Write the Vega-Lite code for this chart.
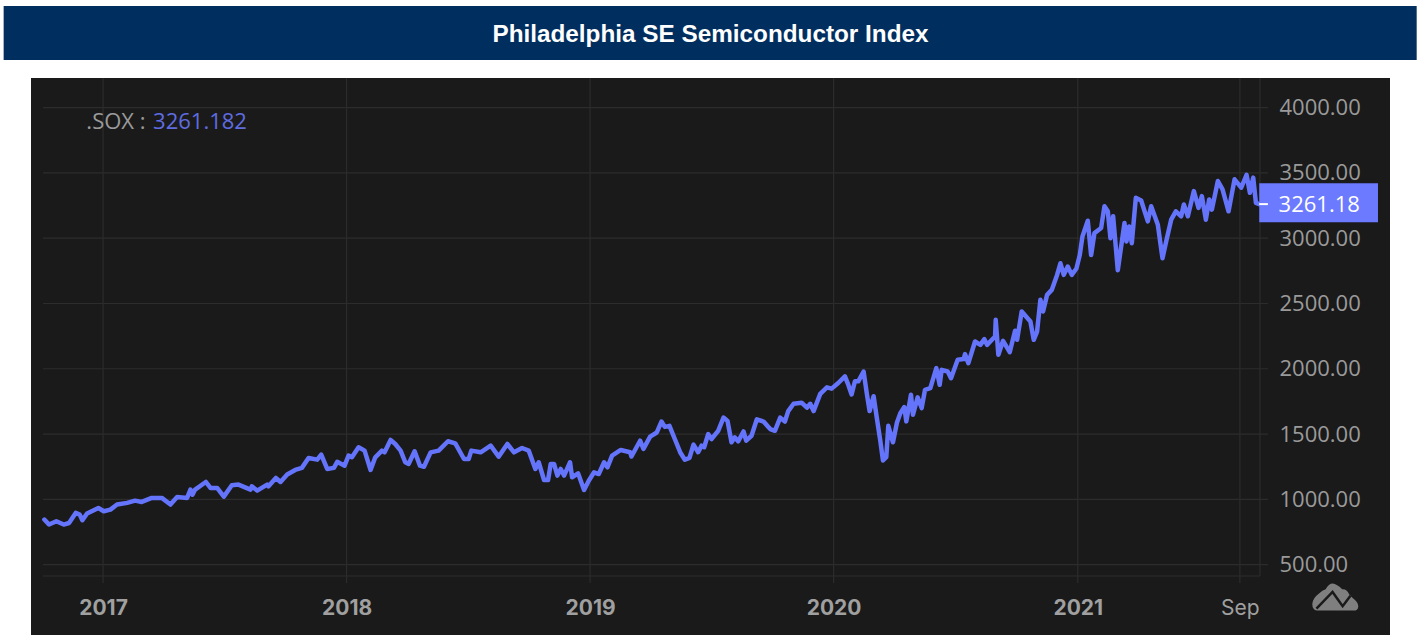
{"$schema":"https://vega.github.io/schema/vega-lite/v6.json","width":1359,"height":557,"autosize":{"type":"none"},"padding":{"left":31,"top":78,"right":30,"bottom":6},"background":"#ffffff",
"title":{"text":"Philadelphia SE Semiconductor Index","anchor":"middle","offset":-41,"font":"Liberation Sans","fontSize":24.3,"fontWeight":"bold","color":"#ffffff"},
"config":{"view":{"fill":"#1a1a1a","stroke":null}},
"datasets":{
"sox":[{"date":"2016-10-05","value":845},{"date":"2016-10-12","value":807},{"date":"2016-10-23","value":832},{"date":"2016-11-03","value":807},{"date":"2016-11-11","value":819},{"date":"2016-11-21","value":896},{"date":"2016-11-27","value":883},{"date":"2016-12-01","value":840},{"date":"2016-12-08","value":891},{"date":"2016-12-25","value":934},{"date":"2017-01-02","value":909},{"date":"2017-01-12","value":921},{"date":"2017-01-22","value":960},{"date":"2017-02-06","value":973},{"date":"2017-02-18","value":990},{"date":"2017-02-28","value":980},{"date":"2017-03-15","value":1011},{"date":"2017-03-30","value":1011},{"date":"2017-04-12","value":960},{"date":"2017-04-22","value":1018},{"date":"2017-05-07","value":1011},{"date":"2017-05-12","value":1075},{"date":"2017-05-15","value":1036},{"date":"2017-05-19","value":1075},{"date":"2017-06-04","value":1133},{"date":"2017-06-11","value":1087},{"date":"2017-06-21","value":1087},{"date":"2017-07-01","value":1021},{"date":"2017-07-13","value":1108},{"date":"2017-07-23","value":1113},{"date":"2017-08-10","value":1075},{"date":"2017-08-12","value":1100},{"date":"2017-08-20","value":1067},{"date":"2017-09-04","value":1113},{"date":"2017-09-06","value":1100},{"date":"2017-09-17","value":1164},{"date":"2017-09-24","value":1133},{"date":"2017-10-04","value":1190},{"date":"2017-10-16","value":1225},{"date":"2017-10-26","value":1241},{"date":"2017-11-05","value":1317},{"date":"2017-11-18","value":1304},{"date":"2017-11-24","value":1343},{"date":"2017-12-03","value":1233},{"date":"2017-12-13","value":1241},{"date":"2017-12-18","value":1287},{"date":"2017-12-29","value":1258},{"date":"2018-01-04","value":1335},{"date":"2018-01-09","value":1322},{"date":"2018-01-19","value":1399},{"date":"2018-01-28","value":1373},{"date":"2018-02-06","value":1225},{"date":"2018-02-13","value":1322},{"date":"2018-02-23","value":1373},{"date":"2018-02-27","value":1360},{"date":"2018-03-08","value":1455},{"date":"2018-03-15","value":1424},{"date":"2018-03-23","value":1373},{"date":"2018-03-30","value":1284},{"date":"2018-04-04","value":1271},{"date":"2018-04-13","value":1368},{"date":"2018-04-21","value":1258},{"date":"2018-04-27","value":1250},{"date":"2018-05-07","value":1360},{"date":"2018-05-19","value":1373},{"date":"2018-06-02","value":1445},{"date":"2018-06-13","value":1429},{"date":"2018-06-26","value":1309},{"date":"2018-07-03","value":1309},{"date":"2018-07-07","value":1373},{"date":"2018-07-21","value":1360},{"date":"2018-08-05","value":1411},{"date":"2018-08-17","value":1327},{"date":"2018-08-30","value":1424},{"date":"2018-09-09","value":1360},{"date":"2018-09-21","value":1393},{"date":"2018-10-01","value":1373},{"date":"2018-10-11","value":1233},{"date":"2018-10-16","value":1284},{"date":"2018-10-24","value":1148},{"date":"2018-10-30","value":1148},{"date":"2018-11-03","value":1271},{"date":"2018-11-08","value":1271},{"date":"2018-11-13","value":1182},{"date":"2018-11-18","value":1233},{"date":"2018-11-23","value":1182},{"date":"2018-12-02","value":1284},{"date":"2018-12-05","value":1169},{"date":"2018-12-14","value":1199},{"date":"2018-12-23","value":1072},{"date":"2018-12-30","value":1143},{"date":"2019-01-07","value":1207},{"date":"2019-01-14","value":1194},{"date":"2019-01-22","value":1284},{"date":"2019-01-27","value":1245},{"date":"2019-02-03","value":1335},{"date":"2019-02-16","value":1378},{"date":"2019-03-02","value":1361},{"date":"2019-03-04","value":1328},{"date":"2019-03-17","value":1449},{"date":"2019-03-22","value":1386},{"date":"2019-04-01","value":1480},{"date":"2019-04-11","value":1512},{"date":"2019-04-18","value":1596},{"date":"2019-04-23","value":1555},{"date":"2019-04-30","value":1563},{"date":"2019-05-08","value":1462},{"date":"2019-05-16","value":1361},{"date":"2019-05-23","value":1303},{"date":"2019-05-30","value":1318},{"date":"2019-06-05","value":1419},{"date":"2019-06-12","value":1361},{"date":"2019-06-17","value":1411},{"date":"2019-06-21","value":1399},{"date":"2019-06-27","value":1500},{"date":"2019-07-02","value":1462},{"date":"2019-07-12","value":1525},{"date":"2019-07-20","value":1626},{"date":"2019-07-26","value":1601},{"date":"2019-08-01","value":1437},{"date":"2019-08-06","value":1475},{"date":"2019-08-11","value":1444},{"date":"2019-08-19","value":1520},{"date":"2019-08-23","value":1449},{"date":"2019-08-31","value":1487},{"date":"2019-09-08","value":1613},{"date":"2019-09-18","value":1596},{"date":"2019-09-28","value":1538},{"date":"2019-10-05","value":1525},{"date":"2019-10-13","value":1626},{"date":"2019-10-20","value":1596},{"date":"2019-10-25","value":1676},{"date":"2019-11-02","value":1732},{"date":"2019-11-14","value":1740},{"date":"2019-11-22","value":1702},{"date":"2019-11-27","value":1732},{"date":"2019-12-02","value":1676},{"date":"2019-12-12","value":1808},{"date":"2019-12-22","value":1858},{"date":"2019-12-29","value":1848},{"date":"2020-01-08","value":1891},{"date":"2020-01-18","value":1942},{"date":"2020-01-23","value":1878},{"date":"2020-01-28","value":1803},{"date":"2020-02-02","value":1904},{"date":"2020-02-07","value":1904},{"date":"2020-02-15","value":1979},{"date":"2020-02-20","value":1803},{"date":"2020-02-24","value":1676},{"date":"2020-03-01","value":1790},{"date":"2020-03-05","value":1651},{"date":"2020-03-11","value":1449},{"date":"2020-03-15","value":1298},{"date":"2020-03-20","value":1323},{"date":"2020-03-23","value":1563},{"date":"2020-03-30","value":1437},{"date":"2020-04-05","value":1588},{"date":"2020-04-10","value":1660},{"date":"2020-04-16","value":1707},{"date":"2020-04-19","value":1597},{"date":"2020-04-26","value":1801},{"date":"2020-04-29","value":1648},{"date":"2020-05-06","value":1781},{"date":"2020-05-12","value":1699},{"date":"2020-05-17","value":1839},{"date":"2020-05-25","value":1852},{"date":"2020-06-03","value":2005},{"date":"2020-06-08","value":1877},{"date":"2020-06-11","value":1992},{"date":"2020-06-20","value":1979},{"date":"2020-06-25","value":1928},{"date":"2020-07-05","value":2069},{"date":"2020-07-14","value":2074},{"date":"2020-07-16","value":2112},{"date":"2020-07-21","value":2043},{"date":"2020-07-31","value":2209},{"date":"2020-08-08","value":2183},{"date":"2020-08-14","value":2227},{"date":"2020-08-18","value":2183},{"date":"2020-08-30","value":2247},{"date":"2020-08-31","value":2375},{"date":"2020-09-04","value":2107},{"date":"2020-09-11","value":2214},{"date":"2020-09-21","value":2127},{"date":"2020-09-29","value":2291},{"date":"2020-10-02","value":2222},{"date":"2020-10-09","value":2439},{"date":"2020-10-22","value":2362},{"date":"2020-10-27","value":2222},{"date":"2020-11-01","value":2285},{"date":"2020-11-06","value":2528},{"date":"2020-11-10","value":2438},{"date":"2020-11-16","value":2566},{"date":"2020-11-23","value":2604},{"date":"2020-12-01","value":2719},{"date":"2020-12-06","value":2808},{"date":"2020-12-11","value":2719},{"date":"2020-12-17","value":2783},{"date":"2020-12-23","value":2719},{"date":"2020-12-30","value":2768},{"date":"2021-01-04","value":2871},{"date":"2021-01-08","value":3013},{"date":"2021-01-16","value":3134},{"date":"2021-01-21","value":2871},{"date":"2021-01-26","value":3039},{"date":"2021-02-05","value":3078},{"date":"2021-02-10","value":3245},{"date":"2021-02-15","value":3206},{"date":"2021-02-19","value":3000},{"date":"2021-02-23","value":3168},{"date":"2021-03-02","value":2755},{"date":"2021-03-12","value":3116},{"date":"2021-03-15","value":2975},{"date":"2021-03-19","value":3090},{"date":"2021-03-23","value":2962},{"date":"2021-03-29","value":3309},{"date":"2021-04-06","value":3289},{"date":"2021-04-16","value":3129},{"date":"2021-04-21","value":3245},{"date":"2021-05-01","value":3103},{"date":"2021-05-08","value":2846},{"date":"2021-05-14","value":2987},{"date":"2021-05-21","value":3142},{"date":"2021-05-28","value":3206},{"date":"2021-06-05","value":3168},{"date":"2021-06-09","value":3258},{"date":"2021-06-15","value":3168},{"date":"2021-06-24","value":3361},{"date":"2021-07-01","value":3232},{"date":"2021-07-06","value":3322},{"date":"2021-07-12","value":3142},{"date":"2021-07-17","value":3297},{"date":"2021-07-21","value":3219},{"date":"2021-07-30","value":3438},{"date":"2021-08-06","value":3374},{"date":"2021-08-15","value":3206},{"date":"2021-08-24","value":3451},{"date":"2021-09-03","value":3387},{"date":"2021-09-11","value":3485},{"date":"2021-09-16","value":3348},{"date":"2021-09-21","value":3464},{"date":"2021-09-25","value":3271},{"date":"2021-09-30","value":3261}],
"hgrid":[{"value":4000,"date":"2016-10-03","date2":"2021-10-13"},{"value":3500,"date":"2016-10-03","date2":"2021-10-13"},{"value":3000,"date":"2016-10-03","date2":"2021-10-13"},{"value":2500,"date":"2016-10-03","date2":"2021-10-13"},{"value":2000,"date":"2016-10-03","date2":"2021-10-13"},{"value":1500,"date":"2016-10-03","date2":"2021-10-13"},{"value":1000,"date":"2016-10-03","date2":"2021-10-13"},{"value":500,"date":"2016-10-03","date2":"2021-10-13"},{"value":413,"date":"2016-10-03","date2":"2021-10-01"}],
"vgrid":[{"date":"2017-01-01","value":360,"value2":4227},{"date":"2018-01-01","value":360,"value2":4227},{"date":"2019-01-01","value":360,"value2":4227},{"date":"2020-01-01","value":360,"value2":4227},{"date":"2021-01-01","value":360,"value2":4227},{"date":"2021-09-01","value":360,"value2":4227},{"date":"2021-10-01","value":413,"value2":4227}],
"banner":[{"date":"2016-08-05","date2":"2022-05-24","value":4365,"value2":4779}],
"tag":[{"date":"2021-09-30","date2":"2022-03-27","value":3122,"value2":3421}],
"tagTick":[{"date":"2021-09-30","date2":"2021-10-13","value":3261}],
"tagText":[{"date":"2021-10-29","value":3255,"label":"3261.18"}],
"legendName":[{"date":"2016-12-07","value":3892,"label":".SOX :"}],
"legendValue":[{"date":"2017-03-17","value":3892,"label":"3261.182"}],
"logo":[{"date":"2022-01-22","value":252}]
},
"encoding":{
"x":{"field":"date","type":"temporal","title":null,"scale":{"type":"utc","domain":["2016-09-15","2022-04-14"],"nice":false},
"axis":{"values":["2017-01-01","2018-01-01","2019-01-01","2020-01-01","2021-01-01","2021-09-01"],"labelExpr":"utcyear(datum.value)==2021&&utcmonth(datum.value)==8?'Sep':utcFormat(datum.value,'%Y')","domain":false,"ticks":false,"grid":false,"labelPadding":-27,"labelBaseline":"middle","labelFont":"Inter","labelFontSize":21,"labelColor":"#a0a0a0","labelFontWeight":{"condition":{"test":"utcmonth(datum.value)==8","value":"normal"},"value":"bold"},"labelOverlap":false,"labelFlush":false,"zindex":0}},
"y":{"field":"value","type":"quantitative","title":null,"scale":{"domain":[-39,4227],"nice":false,"zero":false},
"axis":{"orient":"right","values":[500,1000,1500,2000,2500,3000,3500,4000],"format":".2f","domain":false,"ticks":false,"grid":false,"labelPadding":-111,"labelAlign":"left","labelFont":"Open Sans","labelFontSize":22,"labelColor":"#9a9a9a","zindex":0}}
},
"layer":[
{"data":{"name":"banner"},"mark":{"type":"rect","color":"#002f5f"},"encoding":{"x2":{"field":"date2"},"y2":{"field":"value2"}}},
{"data":{"name":"hgrid"},"mark":{"type":"rule","color":"#2c2c2c","strokeWidth":1.2},"encoding":{"x2":{"field":"date2"}}},
{"data":{"name":"vgrid"},"mark":{"type":"rule","color":"#2c2c2c","strokeWidth":1.2},"encoding":{"y2":{"field":"value2"}}},
{"data":{"name":"sox"},"mark":{"type":"line","color":"#6474fb","strokeWidth":4.5,"strokeJoin":"round","strokeCap":"round","interpolate":"linear"}},
{"data":{"name":"tag"},"mark":{"type":"rect","color":"#6b7aff"},"encoding":{"x2":{"field":"date2"},"y2":{"field":"value2"}}},
{"data":{"name":"tagTick"},"mark":{"type":"rule","color":"#ffffff","strokeWidth":2},"encoding":{"x2":{"field":"date2"}}},
{"data":{"name":"tagText"},"mark":{"type":"text","align":"left","baseline":"middle","font":"Open Sans","fontSize":22,"color":"#ffffff"},"encoding":{"text":{"field":"label"}}},
{"data":{"name":"legendName"},"mark":{"type":"text","align":"left","baseline":"middle","font":"Open Sans","fontSize":22,"color":"#9a9a9a"},"encoding":{"text":{"field":"label"}}},
{"data":{"name":"legendValue"},"mark":{"type":"text","align":"left","baseline":"middle","font":"Open Sans","fontSize":22,"color":"#5f6ce0"},"encoding":{"text":{"field":"label"}}},
{"data":{"name":"logo"},"mark":{"type":"point","filled":true,"size":2116,"opacity":1,"color":"#7f7f7f","shape":"M-.8 .59 Q-1 .55 -1 .3 Q-.98 .05 -.72 -.14 Q-.55 -.3 -.42 -.34 Q-.28 -.6 -.1 -.59 Q.1 -.55 .3 -.34 Q.5 -.36 .6 -.12 Q.72 .02 .82 .1 Q1 .25 1 .42 Q.98 .59 .8 .59 Z"}},
{"data":{"name":"logo"},"mark":{"type":"point","filled":false,"size":2116,"opacity":1,"strokeWidth":2.5,"color":"#1a1a1a","shape":"M-.82 .5 L-.12 -.22 L.32 .4 L.66 -.05"}}
]}
